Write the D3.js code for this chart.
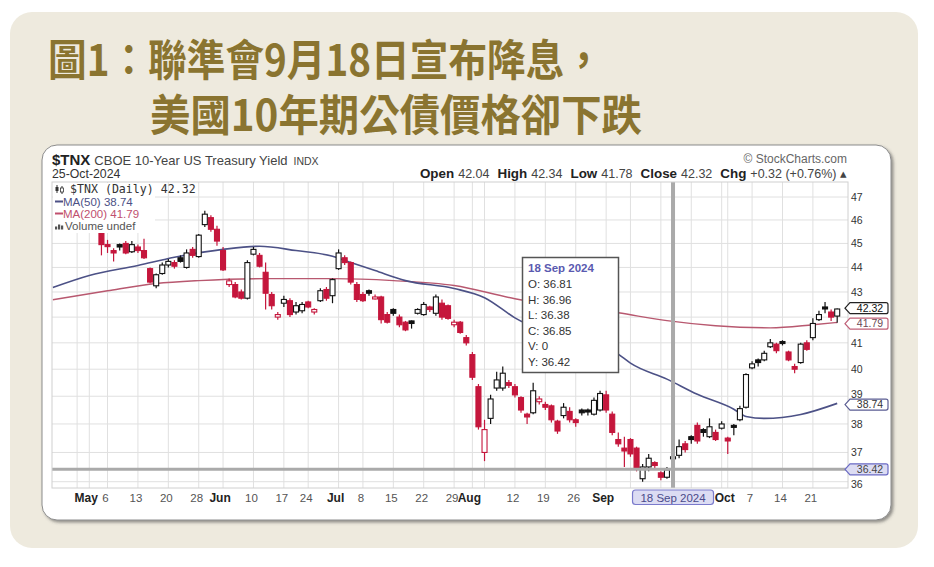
<!DOCTYPE html>
<html><head><meta charset="utf-8">
<script src="https://cdn.jsdelivr.net/npm/d3@7"></script>
<style>body{margin:0;background:#fff}svg{display:block}</style>
</head><body><svg id="c" width="934" height="567"></svg>
<script>
// ---------- DATA ----------
const titleLines = ["圖1：聯準會9月18日宣布降息，", "美國10年期公債價格卻下跌"];
const days = [
 "Apr 23","Apr 24","Apr 25","Apr 26","Apr 29","Apr 30",
 "May 1","May 2","May 3","May 6","May 7","May 8","May 9","May 10","May 13","May 14","May 15","May 16","May 17","May 20","May 21","May 22","May 23","May 24","May 28","May 29","May 30","May 31",
 "Jun 3","Jun 4","Jun 5","Jun 6","Jun 7","Jun 10","Jun 11","Jun 12","Jun 13","Jun 14","Jun 17","Jun 18","Jun 20","Jun 21","Jun 24","Jun 25","Jun 26","Jun 27","Jun 28",
 "Jul 1","Jul 2","Jul 3","Jul 5","Jul 8","Jul 9","Jul 10","Jul 11","Jul 12","Jul 15","Jul 16","Jul 17","Jul 18","Jul 19","Jul 22","Jul 23","Jul 24","Jul 25","Jul 26","Jul 29","Jul 30","Jul 31",
 "Aug 1","Aug 2","Aug 5","Aug 6","Aug 7","Aug 8","Aug 9","Aug 12","Aug 13","Aug 14","Aug 15","Aug 16","Aug 19","Aug 20","Aug 21","Aug 22","Aug 23","Aug 26","Aug 27","Aug 28","Aug 29","Aug 30",
 "Sep 3","Sep 4","Sep 5","Sep 6","Sep 9","Sep 10","Sep 11","Sep 12","Sep 13","Sep 16","Sep 17","Sep 18","Sep 19","Sep 20","Sep 23","Sep 24","Sep 25","Sep 26","Sep 27","Sep 30",
 "Oct 1","Oct 2","Oct 3","Oct 4","Oct 7","Oct 8","Oct 9","Oct 10","Oct 11","Oct 14","Oct 15","Oct 16","Oct 17","Oct 18","Oct 21","Oct 22","Oct 23","Oct 24","Oct 25"
];
const candleFirstDay = "May 3";
const priorClose = 45.8;
const open = [45.5,44.95,44.7,44.95,45.0,44.65,44.85,44.7,43.95,43.25,43.75,44.1,44.2,44.4,44.0,44.75,44.45,45.8,46.1,45.6,
 44.7,43.3,43.3,43.0,42.75,44.55,44.5,43.8,42.9,42.0,42.55,42.65,42.2,42.25,42.6,42.2,42.65,43.1,42.85,
 43.95,44.4,44.2,43.3,42.9,43.05,42.75,42.8,42.1,42.3,42.0,41.8,41.85,42.15,42.1,42.4,42.15,42.55,42.45,41.7,41.8,41.2,
 40.55,39.35,37.0,38.2,39.3,39.3,39.5,39.35,38.95,38.35,38.4,38.8,38.7,38.65,38.1,38.3,38.45,38.15,38.5,38.5,38.35,38.5,
 39.05,38.35,37.45,37.15,37.45,37.15,36.1,36.5,36.65,36.3,36.15,36.81,36.9,37.3,37.55,37.95,37.8,37.55,37.7,37.85,
 37.5,37.95,38.15,38.6,40.05,40.35,40.35,40.85,40.95,41.05,40.65,40.1,40.25,41.0,41.2,41.9,42.4,42.2,42.04];
const high = [45.7,45.15,44.8,45.0,45.1,45.1,44.95,45.2,44.0,43.75,44.2,44.35,44.3,44.5,44.75,44.85,45.4,46.4,46.2,45.75,
 44.85,43.55,43.4,43.1,44.3,44.85,44.6,44.2,43.0,42.2,42.85,42.75,42.6,42.6,42.65,42.35,43.15,43.2,43.55,
 44.75,44.5,44.25,43.4,43.0,43.1,42.9,42.85,42.2,42.35,42.1,41.85,41.87,42.35,42.6,42.45,42.9,42.7,42.5,41.9,41.85,41.3,
 40.65,39.45,38.15,39.05,39.9,40.1,39.6,39.45,39.0,38.4,39.5,39.0,38.8,38.7,38.15,38.75,38.6,38.2,38.55,38.55,38.95,39.2,
 39.2,38.45,37.7,37.55,37.5,37.2,36.6,36.95,36.7,36.35,36.5,36.96,37.45,37.4,37.6,38.05,37.85,38.2,37.8,38.1,
 37.55,38.0,38.65,39.85,40.3,40.4,40.7,41.15,41.0,41.1,40.7,40.2,41.0,41.1,41.95,42.25,42.6,42.3,42.34];
const low = [44.5,44.6,44.25,44.7,44.55,44.6,44.6,44.35,43.35,43.15,43.7,44.0,43.95,44.2,43.95,44.4,44.4,45.7,45.5,44.9,
 43.85,43.2,42.75,42.7,42.7,44.5,44.0,42.3,42.3,41.9,42.4,42.0,42.1,42.15,42.35,42.1,42.6,42.65,42.55,
 43.9,44.1,43.3,42.6,42.6,42.85,42.7,41.75,41.75,42.05,41.6,41.45,41.55,42.1,42.05,42.2,42.05,41.9,41.9,41.6,41.35,40.9,
 39.6,37.8,36.7,38.0,39.2,39.2,39.3,38.95,38.4,38.0,38.35,38.7,38.5,38.05,37.65,38.2,38.05,37.9,38.3,38.3,38.3,38.45,
 38.4,37.6,37.2,36.5,36.85,36.35,36.0,36.35,36.45,36.05,36.1,36.38,36.8,37.0,37.3,37.3,37.55,37.5,37.4,37.8,
 36.95,37.6,38.1,38.55,40.0,40.1,40.3,40.8,40.6,40.9,40.3,39.85,40.2,40.7,41.1,41.85,42.15,41.85,41.78];
const close = [44.95,44.88,44.6,44.85,44.6,44.95,44.7,44.4,43.4,43.7,44.1,44.25,44.05,44.25,44.6,44.5,45.35,46.25,45.6,45.1,
 43.9,43.45,42.8,42.75,44.2,44.75,44.05,42.95,42.45,42.1,42.7,42.1,42.45,42.5,42.4,42.3,43.05,42.75,43.5,
 44.6,44.2,43.4,42.7,42.65,42.95,42.8,41.9,41.8,42.15,41.7,41.5,41.75,42.3,42.5,42.3,42.8,42.0,41.95,41.8,41.4,41.0,
 39.7,37.9,37.8,38.9,39.6,39.85,39.4,39.05,38.5,38.25,39.2,38.9,38.6,38.15,37.75,38.6,38.15,38.05,38.4,38.43,38.85,39.1,
 38.5,37.7,37.3,37.05,36.95,36.45,36.5,36.8,36.55,36.15,36.4,36.85,37.2,37.1,37.45,37.4,37.7,37.9,37.45,38.0,
 37.4,37.9,38.55,39.8,40.2,40.25,40.6,41.0,40.7,41.0,40.35,40.0,40.95,40.75,41.75,42.1,42.35,42.0,42.32];
const ma50Days = ["Apr 23","May 1","May 13","May 21","Jun 3","Jun 11","Jun 20","Jun 28","Jul 2","Jul 10","Jul 17","Jul 29","Aug 5","Aug 12","Sep 5","Sep 9","Sep 17","Sep 24","Oct 2","Oct 4","Oct 9","Oct 17","Oct 25"];
const ma50 = [43.18,43.67,44.08,44.42,44.75,44.88,44.70,44.46,44.29,43.87,43.46,43.14,42.77,41.97,40.57,40.23,39.63,39.07,38.53,38.27,38.20,38.34,38.74];
const ma200Days = ["Apr 23","May 6","May 16","May 28","Jun 12","Jun 28","Jul 15","Jul 29","Aug 12","Sep 5","Sep 17","Sep 27","Oct 10","Oct 21","Oct 25"];
const ma200 = [42.69,43.05,43.34,43.46,43.54,43.54,43.46,43.26,42.73,42.17,41.86,41.66,41.58,41.70,41.79];
const yTicks = [36,37,38,39,40,41,42,43,44,45,46,47];
const yLabelTicks = [36,37,38,39,40,41,43,44,45,46,47]; // 42 hidden behind the value tags in the original
const gridDays = ["Apr 29","May 1","May 6","May 13","May 20","May 28","Jun 3","Jun 10","Jun 17","Jun 24","Jul 1","Jul 8","Jul 15","Jul 22","Jul 29","Aug 1","Aug 5","Aug 12","Aug 19","Aug 26","Sep 3","Sep 9","Sep 16","Sep 23","Sep 30","Oct 1","Oct 7","Oct 14","Oct 21"];
const monthTickDays = ["May 1","Jun 3","Jul 1","Aug 1","Sep 3","Oct 1"];
const monthNames = ["May","Jun","Jul","Aug","Sep","Oct"];
const dayTickDays = ["May 6","May 13","May 20","May 28","Jun 10","Jun 17","Jun 24","Jul 8","Jul 15","Jul 22","Jul 29","Aug 12","Aug 19","Aug 26","Oct 7","Oct 14","Oct 21"];
const dayTickText = ["6","13","20","28","10","17","24","8","15","22","29","12","19","26","7","14","21"];
const cursorDay = "Sep 18", cursorDate = "18 Sep 2024", cursorY = 36.42;
const tooltipLines = ["O: 36.81","H: 36.96","L: 36.38","C: 36.85","V: 0","Y: 36.42"];
const lastClose = 42.32, lastMa50 = 38.74, lastMa200 = 41.79;
const headerItems = [["Open","42.04"],["High","42.34"],["Low","41.78"],["Close","42.32"],["Chg","+0.32 (+0.76%) \u25B4"]];

// ---------- DRAW ----------
const svg = d3.select("#c");
const defs = svg.append("defs");
const fl = defs.append("filter").attr("id","sh").attr("x","-3%").attr("y","-5%").attr("width","106%").attr("height","112%");
fl.append("feDropShadow").attr("dx",2).attr("dy",2).attr("stdDeviation",1.6).attr("flood-color","#444").attr("flood-opacity",0.55);

svg.append("rect").attr("x",10).attr("y",12).attr("width",908).attr("height",536).attr("rx",22).attr("fill","#eeeade");

const tf = "'Noto Sans CJK TC','Noto Sans CJK SC',sans-serif";
svg.append("text").attr("x",48).attr("y",76).attr("font-family",tf).attr("font-weight",700).attr("font-size",43)
  .attr("fill","#8a7430").attr("textLength",555).attr("lengthAdjust","spacingAndGlyphs").text(titleLines[0]);
svg.append("text").attr("x",150).attr("y",131).attr("font-family",tf).attr("font-weight",700).attr("font-size",43)
  .attr("fill","#8a7430").attr("textLength",492).attr("lengthAdjust","spacingAndGlyphs").text(titleLines[1]);

svg.append("rect").attr("x",42).attr("y",145).attr("width",849).attr("height",375).attr("rx",15)
  .attr("fill","#fff").attr("stroke","#8c8c8c").attr("filter","url(#sh)");

const F = "'Liberation Sans',Arial,sans-serif";
const L = 52, R = 848, T = 182, B = 488;
const x = d3.scalePoint().domain(days).range([52.8, 837.2]);
const y = d3.scaleLog().domain([36,47]).range([481.7,197]);

defs.append("clipPath").attr("id","pc").append("rect").attr("x",L).attr("y",T).attr("width",R-L).attr("height",B-T);
const g = svg.append("g").attr("clip-path","url(#pc)");

g.selectAll(".hg").data(yTicks).join("line").attr("x1",L).attr("x2",R).attr("y1",d=>y(d)).attr("y2",d=>y(d))
  .attr("stroke","#e0e0e0").attr("stroke-width",1);
g.selectAll(".vg").data(gridDays).join("line").attr("x1",d=>x(d)).attr("x2",d=>x(d)).attr("y1",T).attr("y2",B)
  .attr("stroke","#e0e0e0").attr("stroke-width",1);
svg.append("rect").attr("x",L).attr("y",T).attr("width",R-L).attr("height",B-T).attr("fill","none").attr("stroke","#d0d0d0");

const line = d3.line().x(d=>x(d[0])).y(d=>y(d[1])).curve(d3.curveMonotoneX);
g.append("path").attr("d",line(ma200Days.map((d,i)=>[d,ma200[i]]))).attr("fill","none").attr("stroke","#b8586f").attr("stroke-width",1.4);
g.append("path").attr("d",line(ma50Days.map((d,i)=>[d,ma50[i]]))).attr("fill","none").attr("stroke","#4c5186").attr("stroke-width",1.6);

const cDays = days.slice(days.indexOf(candleFirstDay));
const red = "#c5163c", blk = "#111";
const cg = g.append("g");
cDays.forEach((d,k)=>{
  const o=open[k], h=high[k], l=low[k], c=close[k];
  const prev = k ? close[k-1] : priorClose;
  const col = c >= prev ? blk : red;
  const cx = x(d);
  cg.append("line").attr("x1",cx).attr("x2",cx).attr("y1",y(h)).attr("y2",y(l)).attr("stroke",col).attr("stroke-width",1.2);
  const top = y(Math.max(o,c)), bot = y(Math.min(o,c));
  cg.append("rect").attr("x",cx-2.5).attr("y",top).attr("width",5).attr("height",Math.max(2,bot-top))
    .attr("fill", c < o ? col : "#fff").attr("stroke",col).attr("stroke-width",1.1);
});

// crosshair
g.append("line").attr("x1",L).attr("x2",R).attr("y1",y(cursorY)).attr("y2",y(cursorY)).attr("stroke","#aaa").attr("stroke-width",3);
g.append("line").attr("x1",x(cursorDay)).attr("x2",x(cursorDay)).attr("y1",T).attr("y2",B).attr("stroke","#aaa").attr("stroke-width",4);

// right axis labels
const yLabOffset = {36:2, 39:-1.8};
svg.selectAll(".yl").data(yLabelTicks).join("text").attr("x",851).attr("y",d=>y(d)+4+(yLabOffset[d]||0)).attr("font-family",F).attr("font-size",10.5)
  .attr("fill","#333").text(d=>d);

// value tags
function tag(v, stroke, fill, tcol, dy){
  const cy = y(v) + (dy||0), h = 11, x0 = 845, w = 41;
  svg.append("path").attr("d",`M${x0},${cy} L${x0+5},${cy-h/2} L${x0+w},${cy-h/2} Q${x0+w+2},${cy-h/2} ${x0+w+2},${cy-h/2+2} L${x0+w+2},${cy+h/2-2} Q${x0+w+2},${cy+h/2} ${x0+w},${cy+h/2} L${x0+5},${cy+h/2} Z`)
    .attr("fill",fill).attr("stroke",stroke).attr("stroke-width",1.2);
  svg.append("text").attr("x",x0+25).attr("y",cy+3.8).attr("text-anchor","middle").attr("font-family",F).attr("font-size",10.5)
    .attr("fill",tcol).text(v.toFixed(2));
}
tag(lastClose,"#222","#fff","#111",-0.8);
tag(lastMa200,"#c06078","#fff","#6a4a55",1.2);
tag(lastMa50,"#5a5c92","#fff","#333",1.2);
tag(cursorY,"#6a6ac4","#dcdcf3","#444",0);

// legend
const lg = svg.append("g");
lg.append("rect").attr("x",53).attr("y",183).attr("width",102).attr("height",50).attr("fill","#fff");
lg.append("line").attr("x1",57).attr("x2",57).attr("y1",185).attr("y2",193).attr("stroke","#333");
lg.append("rect").attr("x",55.5).attr("y",187).attr("width",3).attr("height",4).attr("fill","#333");
lg.append("line").attr("x1",62).attr("x2",62).attr("y1",186).attr("y2",194).attr("stroke","#333");
lg.append("rect").attr("x",60.5).attr("y",188).attr("width",3).attr("height",4).attr("fill","#fff").attr("stroke","#333").attr("stroke-width",0.8);
lg.append("text").attr("x",70).attr("y",193).attr("font-family","'DejaVu Sans Mono',monospace").attr("font-size",11.6)
  .attr("fill","#333").text("$TNX (Daily) 42.32");
lg.append("line").attr("x1",55).attr("x2",63).attr("y1",201.5).attr("y2",201.5).attr("stroke","#4c5186").attr("stroke-width",2);
lg.append("text").attr("x",63).attr("y",205.5).attr("font-family",F).attr("font-size",11.5).attr("fill","#4c5186").text("MA(50) 38.74");
lg.append("line").attr("x1",55).attr("x2",63).attr("y1",213.5).attr("y2",213.5).attr("stroke","#c0506e").attr("stroke-width",2);
lg.append("text").attr("x",63).attr("y",217.5).attr("font-family",F).attr("font-size",11.5).attr("fill","#c0506e").text("MA(200) 41.79");
[[55,3],[58,5],[61,4]].forEach(b=>lg.append("rect").attr("x",b[0]).attr("y",229.5-b[1]).attr("width",2.2).attr("height",b[1]).attr("fill","#555"));
lg.append("text").attr("x",65).attr("y",229.5).attr("font-family",F).attr("font-size",11.5).attr("fill","#555").text("Volume undef");

// tooltip
const tt = svg.append("g");
tt.append("rect").attr("x",522.5).attr("y",257.5).attr("width",96).attr("height",115).attr("fill","#fff").attr("stroke","#555").attr("stroke-width",1.5);
tt.append("text").attr("x",528).attr("y",272).attr("font-family",F).attr("font-size",11.5).attr("font-weight",700).attr("fill","#5a5ab0").text(cursorDate);
tooltipLines.forEach((t,i)=>tt.append("text").attr("x",528).attr("y",288+i*15.6).attr("font-family",F).attr("font-size",11.5).attr("fill","#333").text(t));

// header
svg.append("text").attr("x",52).attr("y",165).attr("font-family",F).attr("fill","#222")
  .call(t=>{t.append("tspan").attr("font-weight",700).attr("font-size",15).text("$TNX");
            t.append("tspan").attr("dx",4).attr("font-size",13).attr("fill","#444").text("CBOE 10-Year US Treasury Yield");
            t.append("tspan").attr("dx",6).attr("font-size",10.5).attr("fill","#444").text("INDX");});
svg.append("text").attr("x",52).attr("y",178).attr("font-family",F).attr("font-size",12.3).attr("fill","#333").text("25-Oct-2024");
svg.append("text").attr("x",847).attr("y",163).attr("text-anchor","end").attr("font-family",F).attr("font-size",12).attr("fill","#666").text("\u00A9 StockCharts.com");
const hdr = svg.append("text").attr("x",847).attr("y",178).attr("text-anchor","end").attr("font-family",F).attr("fill","#222");
headerItems.forEach((p,i)=>{
  hdr.append("tspan").attr("dx",i?8:0).attr("font-weight",700).attr("font-size",13.4).text(p[0]);
  hdr.append("tspan").attr("dx",4).attr("font-size",12.5).attr("fill","#444").text(p[1]);
});

// x labels
svg.selectAll(".ml").data(monthTickDays).join("text").attr("x",d=>x(d)-3).attr("y",501.5).attr("text-anchor","middle")
  .attr("font-family",F).attr("font-size",12).attr("font-weight",700).attr("fill","#222").text((d,i)=>monthNames[i]);
svg.selectAll(".dl").data(dayTickDays).join("text").attr("x",d=>x(d)-2).attr("y",501.5).attr("text-anchor","middle")
  .attr("font-family",F).attr("font-size",11.5).attr("fill","#555").text((d,i)=>dayTickText[i]);
const cx0 = x(cursorDay);
svg.append("rect").attr("x",cx0-40.5).attr("y",490).attr("width",81).attr("height",14.5).attr("rx",3)
  .attr("fill","#dcdcf3").attr("stroke","#7a7acc").attr("stroke-width",1.2);
svg.append("text").attr("x",cx0).attr("y",501.5).attr("text-anchor","middle").attr("font-family",F).attr("font-size",11.5)
  .attr("fill","#4a4a8a").text(cursorDate);
</script></body></html>
